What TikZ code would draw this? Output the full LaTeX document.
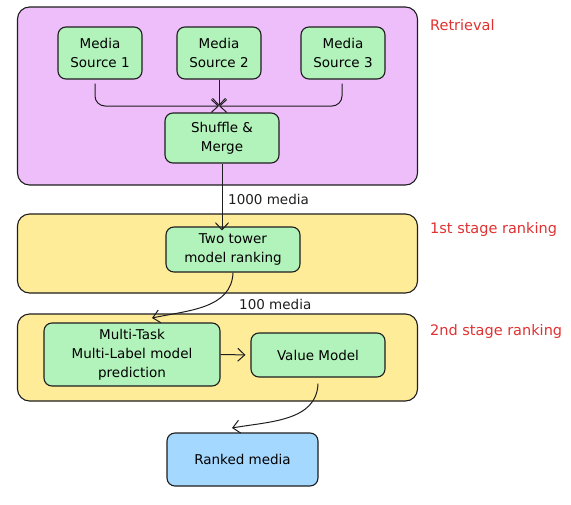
\documentclass[tikz,border=0pt]{standalone}
\usepackage{fontspec}
\usepackage{xcolor}
\usepackage{tikz}
\usetikzlibrary{arrows.meta}
\usetikzlibrary{positioning}
\newfontfamily\handfont{DejaVu Sans}
\definecolor{ink}{HTML}{1E1E1E}
\definecolor{retrfill}{HTML}{EEBEFA}
\definecolor{rankfill}{HTML}{FFEC99}
\definecolor{blockgreen}{HTML}{B2F2BB}
\definecolor{outblue}{HTML}{A5D8FF}
\definecolor{tagred}{HTML}{E03131}
\begin{document}
\begin{tikzpicture}[
  x=1pt, y=-1pt,
  every node/.style={font=\handfont\fontsize{13.5}{19}\selectfont, align=center, inner sep=1pt},
  stage/.style={draw=ink, rounded corners=12pt, line width=1.1pt, minimum width=400pt},
  blk/.style={draw=ink, fill=blockgreen, rounded corners=8pt, line width=1.1pt},
  tag/.style={text=tagred, anchor=west, font=\handfont\fontsize{14.5}{19}\selectfont},
  lbl/.style={text=ink, anchor=west},
  flow/.style={draw=ink, line width=1pt, -{Straight Barb[length=7pt,width=13pt]}}
]
\useasboundingbox (0,0) rectangle (571,504);
% stages
\node[stage, fill=retrfill, minimum height=178pt] (retr) at (217.5,96) {};
\node[stage, fill=rankfill, minimum height=79pt] (first) at (217.5,253.5) {};
\node[stage, fill=rankfill, minimum height=87pt] (second) at (217.5,357.5) {};
\node[tag] (tretr) at (429,25) {Retrieval};
\node[tag] (tfirst) at (429,229) {1st stage ranking};
\node[tag] (tsecond) at (429,331) {2nd stage ranking};
% retrieval
\node[blk, minimum width=84pt, minimum height=52pt] (src1) at (100,53) {Media\\Source 1};
\node[blk, minimum width=84pt, minimum height=52pt] (src2) at (219,53) {Media\\Source 2};
\node[blk, minimum width=84pt, minimum height=52pt] (src3) at (343,53) {Media\\Source 3};
\node[blk, minimum width=114pt, minimum height=50pt] (shuf) at (222,138) {Shuffle \&\\Merge};
\coordinate (merge) at (219,106);
\draw[flow, rounded corners=10pt] ([xshift=-5pt,yshift=-4pt]src1.south) |- (merge);
\draw[flow] (src2.south) -- (merge);
\draw[flow, rounded corners=10pt] ([xshift=-1pt,yshift=-4pt]src3.south) |- (merge);
% ranking
\node[blk, minimum width=134pt, minimum height=45pt] (two) at (233,249.5) {Two tower\\model ranking};
\draw[flow] (shuf.south) -- ([yshift=-4pt]shuf.south |- two.north);
\node[lbl] (n1000) at (227,199) {1000 media};
\node[blk, minimum width=176pt, minimum height=63pt] (mtml) at (132,354.5) {Multi-Task\\Multi-Label model\\prediction};
\node[blk, minimum width=134pt, minimum height=44pt] (value) at (318,355) {Value Model};
\coordinate (mtin) at (152,318);
\draw[flow] (two.south) to[out=-92, in=12] (mtin);
\node[lbl] (n100) at (238,304) {100 media};
\draw[flow, shorten >=5pt] (mtml.east) -- (value.west);
% output
\node[blk, fill=outblue, minimum width=151pt, minimum height=53pt] (rank) at (242.5,459.5) {Ranked media};
\coordinate (rankin) at (232,428);
\draw[flow] ([yshift=-6pt]value.south) to[out=-92, in=10] (rankin);
\end{tikzpicture}
\end{document}
